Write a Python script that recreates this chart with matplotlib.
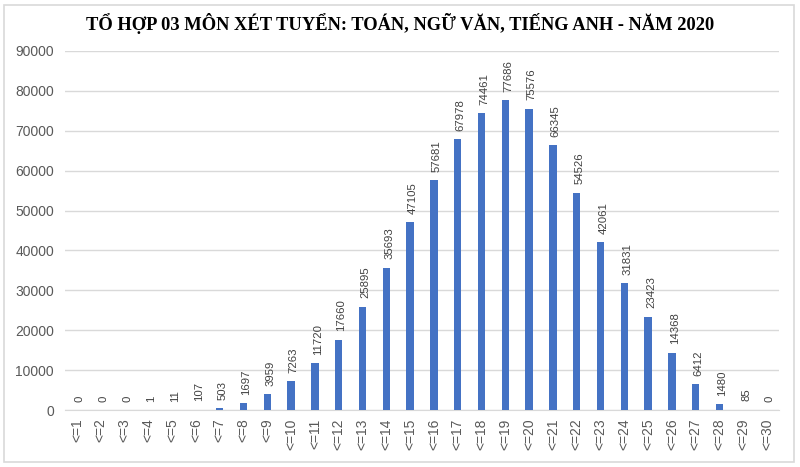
import matplotlib
matplotlib.use("Agg")
import matplotlib.pyplot as plt
from matplotlib.patches import Rectangle

categories = ["<=%d" % i for i in range(1, 31)]
values = [0, 0, 0, 1, 11, 107, 503, 1697, 3959, 7263, 11720, 17660, 25895, 35693,
          47105, 57681, 67978, 74461, 77686, 75576, 66345, 54526, 42061, 31831,
          23423, 14368, 6412, 1480, 85, 0]
title = "TỔ HỢP 03 MÔN XÉT TUYỂN: TOÁN, NGỮ VĂN, TIẾNG ANH - NĂM 2020"
yticks = list(range(0, 90001, 10000))

W, H = 800, 467
fig = plt.figure(figsize=(W / 100, H / 100), dpi=100)
fig.patch.set_facecolor("white")
# chart area border
fig.patches.append(Rectangle((4 / W, 5 / H), 790 / W, 457 / H, transform=fig.transFigure,
                             fill=False, edgecolor="#d9d9d9", linewidth=1.2))

ax = fig.add_axes([65 / W, (H - 410) / H, 714 / W, 359 / H])
x = list(range(len(categories)))
ax.bar(x, values, width=0.31, color="#4472c4", zorder=3)
ax.set_xlim(-0.5, len(categories) - 0.5)
ax.set_ylim(0, 90000)
ax.set_yticks(yticks)
ax.set_yticklabels([str(v) for v in yticks], fontsize=10, color="#595959", family="Liberation Sans")
ax.set_xticks(x)
ax.set_xticklabels(categories, rotation=90, fontsize=10, color="#595959", family="Liberation Sans")
ax.tick_params(axis="both", length=0, pad=8)
ax.tick_params(axis="x", pad=6)
ax.grid(axis="y", color="#d9d9d9", linewidth=1, zorder=0)
for s in ["top", "right", "left"]:
    ax.spines[s].set_visible(False)
ax.spines["bottom"].set_color("#d9d9d9")
ax.set_facecolor("white")

for xi, v in zip(x, values):
    ax.annotate(str(v), (xi, v), xytext=(2, 6), textcoords="offset points",
                rotation=90, ha="center", va="bottom", fontsize=8.2, color="#404040",
                family="Liberation Sans")

fig.text(0.5, (H - 23) / H, title, ha="center", va="center", fontsize=13.3,
         fontweight="bold", family="Liberation Serif", color="black")

fig.savefig("out.png", dpi=100, facecolor="white")
